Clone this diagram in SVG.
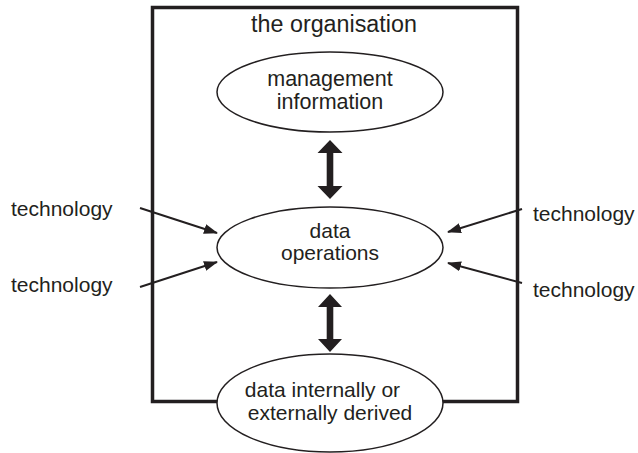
<svg xmlns="http://www.w3.org/2000/svg" width="638" height="453" viewBox="0 0 638 453">
<style>
  text { font-family: "Liberation Sans", Arial, sans-serif; fill: #231f20; font-size: 21px; }
  .c { text-anchor: middle; }
  .node ellipse { fill: #ffffff; stroke: #231f20; stroke-width: 1.5; }
  .frame { fill: none; stroke: #231f20; stroke-width: 3.5; }
  .thin { stroke: #231f20; stroke-width: 2; fill: none; marker-end: url(#ah); }
  .dbl { fill: #231f20; }
</style>
<defs>
  <marker id="ah" viewBox="0 0 14 10" refX="13" refY="5" markerWidth="14" markerHeight="10" markerUnits="userSpaceOnUse" orient="auto">
    <path d="M0,0 L14,5 L0,10 Z" fill="#231f20"/>
  </marker>
</defs>
<g id="organisation">
  <rect class="frame" x="152.5" y="7.5" width="365" height="394"/>
  <text class="c" x="334" y="32" style="font-size:23.3px">the organisation</text>
</g>
<g id="connectors">
  <path class="dbl" d="M330,140 L342.5,153 L333.3,153 L333.3,186 L342.5,186 L330,199 L317.5,186 L326.7,186 L326.7,153 L317.5,153 Z"/>
  <path class="dbl" d="M330,294 L342,307 L333.3,307 L333.3,339 L342,339 L330,352 L318,339 L326.7,339 L326.7,307 L318,307 Z"/>
  <line class="thin" x1="140" y1="208" x2="217" y2="233"/>
  <line class="thin" x1="140" y1="287" x2="217" y2="262"/>
  <line class="thin" x1="522" y1="209" x2="448" y2="232"/>
  <line class="thin" x1="522" y1="283" x2="448" y2="263"/>
</g>
<g id="management" class="node">
  <ellipse cx="330" cy="92" rx="113" ry="40"/>
  <text class="c" x="330" y="86" style="font-size:21.5px">management</text>
  <text class="c" x="330" y="109" style="font-size:21.5px">information</text>
</g>
<g id="operations" class="node">
  <ellipse cx="330" cy="247.5" rx="113" ry="40.5"/>
  <text class="c" x="330" y="238">data</text>
  <text class="c" x="330" y="260">operations</text>
</g>
<g id="derived" class="node">
  <ellipse cx="330" cy="403" rx="113" ry="49"/>
  <text class="c" x="322.5" y="397">data internally or</text>
  <text class="c" x="330" y="420">externally derived</text>
</g>
<g id="tech-left-1"><text x="11" y="216">technology</text></g>
<g id="tech-left-2"><text x="11" y="292">technology</text></g>
<g id="tech-right-1"><text x="533" y="221">technology</text></g>
<g id="tech-right-2"><text x="533" y="297">technology</text></g>
</svg>
